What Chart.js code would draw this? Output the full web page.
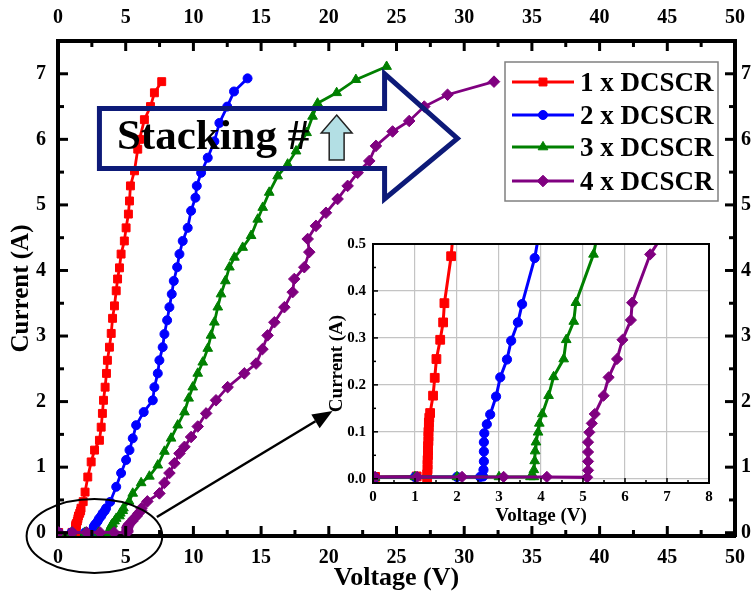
<!DOCTYPE html>
<html>
<head>
<meta charset="utf-8">
<title>DCSCR stacking I-V</title>
<script src="https://cdn.jsdelivr.net/npm/chart.js@4.4.1/dist/chart.umd.min.js"></script>
<style>
  html, body { margin: 0; padding: 0; background: #ffffff; overflow: hidden; }
  #wrap { position: relative; width: 756px; height: 597px; }
  #mainChart { position: absolute; left: 0; top: 0; width: 756px; height: 597px; }
  #insetChart { position: absolute; left: 326px; top: 228px; width: 400px; height: 310px; }
</style>
</head>
<body>
<div id="wrap">
  <canvas id="mainChart" width="756" height="597"></canvas>
  <canvas id="insetChart" width="400" height="310"></canvas>
</div>
<script>
// ---------------- data ----------------
const seriesNames = ['1 x DCSCR', '2 x DCSCR', '3 x DCSCR', '4 x DCSCR'];
const seriesColors = ['#ff0000', '#0000ff', '#008000', '#800080'];
const markerStyles = ['rect', 'circle', 'triangle', 'rectRot'];

// 1 x DCSCR : voltage (V) / current (A)
const volt1 = [0.05, 1.04, 1.29, 1.29, 1.30, 1.30, 1.30, 1.31, 1.31, 1.31, 1.32, 1.32, 1.32, 1.33, 1.33, 1.34,
  1.36, 1.43, 1.47, 1.51, 1.60, 1.67, 1.70, 1.86, 2.00, 2.20, 2.45, 2.70, 3.06, 3.19, 3.28, 3.36, 3.48, 3.58,
  3.65, 3.80, 3.93, 4.03, 4.17, 4.30, 4.40, 4.54, 4.66, 4.90, 5.03, 5.20, 5.28, 5.35, 5.65, 5.89, 6.02, 6.38,
  6.83, 7.12, 7.66];
const curr1 = [0.004, 0.005, 0.000, 0.010, 0.020, 0.030, 0.040, 0.050, 0.060, 0.070, 0.080, 0.090, 0.100, 0.110,
  0.120, 0.130, 0.140, 0.177, 0.215, 0.255, 0.296, 0.333, 0.374, 0.474, 0.62, 0.85, 1.08, 1.26, 1.41, 1.61, 1.82,
  2.02, 2.22, 2.43, 2.63, 2.83, 3.04, 3.27, 3.46, 3.69, 3.87, 4.04, 4.25, 4.45, 4.65, 4.86, 5.06, 5.29, 5.52, 5.85,
  6.00, 6.30, 6.50, 6.71, 6.88];

// 2 x DCSCR
const volt2 = [0.05, 1.00, 2.00, 2.55, 2.62, 2.63, 2.64, 2.64, 2.64, 2.65, 2.71, 2.79, 2.93, 3.03, 3.19, 3.29,
  3.45, 3.55, 3.85, 4.30, 4.66, 5.03, 5.28, 5.52, 5.77, 6.33, 7.00, 7.12, 7.37, 7.49, 7.73, 7.86, 8.06, 8.23, 8.40,
  8.55, 8.80, 8.97, 9.21, 9.58, 9.83, 10.15, 10.25, 10.57, 11.06, 11.55, 11.92, 12.50, 13.00, 14.00];
const curr2 = [0.003, 0.004, 0.004, 0.004, 0.005, 0.019, 0.037, 0.058, 0.078, 0.097, 0.116, 0.137, 0.175, 0.216,
  0.254, 0.294, 0.333, 0.372, 0.470, 0.70, 0.91, 1.11, 1.26, 1.44, 1.64, 1.84, 2.02, 2.22, 2.43, 2.63, 2.83, 3.03,
  3.24, 3.44, 3.64, 3.84, 4.05, 4.25, 4.45, 4.65, 4.91, 5.11, 5.29, 5.49, 5.72, 5.97, 6.25, 6.50, 6.73, 6.93];

// 3 x DCSCR
const volt3 = [0.05, 1.00, 2.00, 3.00, 3.75, 3.83, 3.83, 3.85, 3.86, 3.88, 3.93, 3.96, 4.03, 4.18, 4.30, 4.54,
  4.60, 4.78, 4.83, 5.25, 5.52, 6.14, 6.75, 7.37, 7.86, 8.35, 8.84, 9.34, 9.65, 9.95, 10.32, 10.69, 11.06, 11.30,
  11.55, 11.80, 12.04, 12.36, 12.66, 13.03, 13.64, 14.26, 14.75, 15.12, 15.60, 16.22, 16.96, 17.58, 18.36, 18.80,
  19.17, 20.58, 22.00, 24.27];
const curr3 = [0.003, 0.004, 0.004, 0.004, 0.004, 0.004, 0.019, 0.038, 0.059, 0.078, 0.099, 0.118, 0.138, 0.177,
  0.217, 0.255, 0.296, 0.335, 0.375, 0.478, 0.60, 0.76, 0.86, 1.03, 1.24, 1.44, 1.64, 1.84, 2.05, 2.22, 2.43, 2.60,
  2.81, 3.01, 3.21, 3.44, 3.64, 3.84, 4.05, 4.20, 4.35, 4.53, 4.78, 4.96, 5.19, 5.44, 5.62, 5.82, 6.10, 6.35, 6.55,
  6.71, 6.91, 7.11];

// 4 x DCSCR
const volt4 = [0.05, 1.05, 2.12, 3.11, 4.14, 5.10, 5.12, 5.12, 5.12, 5.12, 5.15, 5.21, 5.28, 5.49, 5.61, 5.81,
  5.94, 6.14, 6.17, 6.60, 7.49, 7.86, 8.23, 8.60, 8.97, 9.34, 9.83, 10.32, 10.94, 11.67, 12.53, 13.76, 14.63, 15.10,
  15.48, 15.98, 16.72, 17.33, 17.45, 18.19, 18.56, 18.44, 19.05, 19.79, 20.65, 21.39, 22.13, 22.99, 23.48, 24.71,
  25.94, 27.05, 28.77, 32.20];
const curr4 = [0.004, 0.004, 0.004, 0.004, 0.004, 0.003, 0.018, 0.037, 0.057, 0.078, 0.099, 0.118, 0.138, 0.177,
  0.216, 0.255, 0.296, 0.338, 0.375, 0.478, 0.60, 0.76, 0.91, 1.06, 1.21, 1.31, 1.46, 1.62, 1.82, 2.02, 2.22, 2.43,
  2.58, 2.80, 3.01, 3.21, 3.44, 3.67, 3.87, 4.05, 4.28, 4.48, 4.68, 4.88, 5.09, 5.29, 5.49, 5.67, 5.90, 6.12, 6.28,
  6.50, 6.68, 6.88];

// axis ranges / tick steps
const mainVoltRange = [0, 50], mainVoltStep = 5;
const mainCurrRange = [-0.05, 7.5], mainCurrStep = 1;
const insetVoltRange = [0, 8], insetVoltStep = 1;
const insetCurrRange = [-0.009, 0.5], insetCurrStep = 0.1;

// ---------------- styling / layout ----------------
const SERIF = "'Liberation Serif', 'Times New Roman', Times, serif";
Chart.defaults.font.family = SERIF;
Chart.defaults.font.weight = 'bold';
Chart.defaults.color = '#000000';

const voltages = [volt1, volt2, volt3, volt4];
const currents = [curr1, curr2, curr3, curr4];
function toPoints(v, c) { return v.map((x, k) => ({ x: x, y: c[k] })); }

function buildDatasets(radii, lineWidth) {
  return seriesNames.map((name, k) => ({
    label: name,
    data: toPoints(voltages[k], currents[k]),
    borderColor: seriesColors[k],
    backgroundColor: seriesColors[k],
    pointBackgroundColor: seriesColors[k],
    pointBorderColor: seriesColors[k],
    pointStyle: markerStyles[k],
    pointRadius: radii[k],
    pointBorderWidth: 1,
    borderWidth: lineWidth,
    tension: 0,
    order: seriesNames.length - 1 - k
  }));
}

// inward major/minor tick marks
const inwardTicks = {
  id: 'inwardTicks',
  afterDraw(chart, args, opts) {
    const ctx = chart.ctx, a = chart.chartArea;
    ctx.save();
    ctx.strokeStyle = '#000';
    ctx.lineWidth = opts.width;
    Object.values(chart.scales).forEach(s => {
      const step = s.options.ticks.stepSize, half = step / 2;
      const k0 = Math.ceil(s.min / half - 1e-6), k1 = Math.floor(s.max / half + 1e-6);
      for (let k = k0; k <= k1; k++) {
        const v = k * half;
        if (Math.abs(v - s.min) < 1e-9 || Math.abs(v - s.max) < 1e-9) continue;
        const len = (Math.abs(k) % 2 === 0) ? opts.major : opts.minor;
        const p = s.getPixelForValue(v);
        ctx.beginPath();
        if (s.position === 'bottom') { ctx.moveTo(p, a.bottom); ctx.lineTo(p, a.bottom - len); }
        else if (s.position === 'top') { ctx.moveTo(p, a.top); ctx.lineTo(p, a.top + len); }
        else if (s.position === 'left') { ctx.moveTo(a.left, p); ctx.lineTo(a.left + len, p); }
        else if (s.position === 'right') { ctx.moveTo(a.right, p); ctx.lineTo(a.right - len, p); }
        ctx.stroke();
      }
    });
    ctx.restore();
  }
};

// annotations (in data units of the main chart)
const stackArrow = { left: 3.06, base: 24.12, tip: 29.5, bodyTop: 6.47, bodyBottom: 5.555, headTop: 7.0, headBottom: 5.09, tipLevel: 6.013 };
const stackLabel = { text: 'Stacking #', x: 4.35, y: 5.85, size: 43 };
const upArrow = { x: 20.58, tip: 6.37, neck: 6.097, foot: 5.685, headHalf: 1.14, shaftHalf: 0.55 };
const zoomEllipse = { x: 2.69, y: -0.05, rx: 5.01, ry: 0.564 };
const pointer = { x0: 7.30, y0: 0.24, x1: 20.28, y1: 1.857 };

const decorations = {
  id: 'decorations',
  afterDraw(chart) {
    const ctx = chart.ctx, xs = chart.scales.x, ys = chart.scales.y;
    const X = v => xs.getPixelForValue(v), Y = v => ys.getPixelForValue(v);
    ctx.save();
    // big block arrow
    const A = stackArrow;
    ctx.strokeStyle = '#0d1a78';
    ctx.lineWidth = 5;
    ctx.lineJoin = 'miter';
    ctx.beginPath();
    ctx.moveTo(X(A.left), Y(A.bodyTop));
    ctx.lineTo(X(A.base), Y(A.bodyTop));
    ctx.lineTo(X(A.base), Y(A.headTop));
    ctx.lineTo(X(A.tip), Y(A.tipLevel));
    ctx.lineTo(X(A.base), Y(A.headBottom));
    ctx.lineTo(X(A.base), Y(A.bodyBottom));
    ctx.lineTo(X(A.left), Y(A.bodyBottom));
    ctx.closePath();
    ctx.stroke();
    // label
    ctx.fillStyle = '#000';
    ctx.font = 'bold ' + stackLabel.size + 'px ' + SERIF;
    ctx.textAlign = 'left';
    ctx.textBaseline = 'alphabetic';
    ctx.fillText(stackLabel.text, X(stackLabel.x), Y(stackLabel.y));
    // small up arrow
    const U = upArrow;
    ctx.fillStyle = '#b3dfe4';
    ctx.strokeStyle = '#222';
    ctx.lineWidth = 1.5;
    ctx.beginPath();
    ctx.moveTo(X(U.x), Y(U.tip));
    ctx.lineTo(X(U.x + U.headHalf), Y(U.neck));
    ctx.lineTo(X(U.x + U.shaftHalf), Y(U.neck));
    ctx.lineTo(X(U.x + U.shaftHalf), Y(U.foot));
    ctx.lineTo(X(U.x - U.shaftHalf), Y(U.foot));
    ctx.lineTo(X(U.x - U.shaftHalf), Y(U.neck));
    ctx.lineTo(X(U.x - U.headHalf), Y(U.neck));
    ctx.closePath();
    ctx.fill();
    ctx.stroke();
    // ellipse around the low-current region
    const E = zoomEllipse;
    ctx.strokeStyle = '#000';
    ctx.lineWidth = 2;
    ctx.beginPath();
    ctx.ellipse(X(E.x), Y(E.y), Math.abs(X(E.x + E.rx) - X(E.x)), Math.abs(Y(E.y + E.ry) - Y(E.y)), 0, 0, Math.PI * 2);
    ctx.stroke();
    // pointer arrow to the inset
    const P = pointer;
    const px0 = X(P.x0), py0 = Y(P.y0), px1 = X(P.x1), py1 = Y(P.y1);
    const ang = Math.atan2(py1 - py0, px1 - px0), hl = 20, hw = 8;
    const bx = px1 - hl * Math.cos(ang), by = py1 - hl * Math.sin(ang);
    ctx.lineWidth = 2.5;
    ctx.beginPath(); ctx.moveTo(px0, py0); ctx.lineTo(bx, by); ctx.stroke();
    ctx.fillStyle = '#000';
    ctx.beginPath();
    ctx.moveTo(px1, py1);
    ctx.lineTo(bx + hw * Math.sin(ang), by - hw * Math.cos(ang));
    ctx.lineTo(bx - hw * Math.sin(ang), by + hw * Math.cos(ang));
    ctx.closePath();
    ctx.fill();
    ctx.restore();
  }
};

// legend drawn inside the plot
const legendBox = { x: 505, y: 62, w: 213, h: 139, rows: [82, 115, 147, 181], lineX0: 512, lineX1: 574, textX: 580, fontSize: 27 };
const insideLegend = {
  id: 'insideLegend',
  afterDraw(chart) {
    const ctx = chart.ctx, L = legendBox;
    ctx.save();
    ctx.fillStyle = '#fff';
    ctx.fillRect(L.x, L.y, L.w, L.h);
    ctx.strokeStyle = '#808080';
    ctx.lineWidth = 1.5;
    ctx.strokeRect(L.x, L.y, L.w, L.h);
    chart.data.datasets.forEach((ds, k) => {
      const y = L.rows[k];
      ctx.strokeStyle = ds.borderColor;
      ctx.lineWidth = 3;
      ctx.beginPath(); ctx.moveTo(L.lineX0, y); ctx.lineTo(L.lineX1, y); ctx.stroke();
      ctx.fillStyle = ds.backgroundColor;
      ctx.lineWidth = 1;
      Chart.helpers.drawPoint(ctx, { pointStyle: ds.pointStyle, radius: ds.pointRadius, rotation: 0, borderWidth: 1 }, (L.lineX0 + L.lineX1) / 2, y);
      ctx.fillStyle = '#000';
      ctx.font = 'bold ' + L.fontSize + 'px ' + SERIF;
      ctx.textAlign = 'left';
      ctx.textBaseline = 'alphabetic';
      ctx.fillText(ds.label, L.textX, y + 9);
    });
    ctx.restore();
  }
};

function axis(position, range, step, opts) {
  return {
    type: 'linear', position: position, min: range[0], max: range[1],
    ticks: { stepSize: step, padding: opts.pad, font: { size: opts.size }, includeBounds: false, autoSkip: false, maxRotation: 0,
      callback: opts.fmt || (v => String(v)) },
    grid: opts.grid || { drawOnChartArea: false, drawTicks: false },
    border: { display: opts.border !== false, color: '#000', width: opts.borderWidth || 4 },
    title: opts.title ? { display: true, text: opts.title, font: { size: opts.titleSize }, padding: opts.titlePad } : { display: false },
    afterFit: s => { if (s.isHorizontal()) s.height = opts.extent; else s.width = opts.extent; }
  };
}

new Chart(document.getElementById('mainChart'), {
  type: 'line',
  data: { datasets: buildDatasets([5.6, 4.5, 5.6, 5.8], 2.8) },
  options: {
    responsive: false, animation: false, maintainAspectRatio: false,
    layout: { padding: 0 },
    plugins: { legend: { display: false }, tooltip: { enabled: false }, inwardTicks: { major: 10, minor: 6, width: 3 } },
    scales: {
      x: axis('bottom', mainVoltRange, mainVoltStep, { pad: 10, size: 20, extent: 61, title: 'Voltage (V)', titleSize: 26, titlePad: { top: 0, bottom: 3 } }),
      x2: axis('top', mainVoltRange, mainVoltStep, { pad: 11, size: 20, extent: 41 }),
      y: axis('left', mainCurrRange, mainCurrStep, { pad: 12, size: 20, extent: 58, title: 'Current (A)', titleSize: 25, titlePad: { top: 7, bottom: 0 } }),
      y2: axis('right', mainCurrRange, mainCurrStep, { pad: 6, size: 20, extent: 20 })
    }
  },
  plugins: [inwardTicks, decorations, insideLegend]
});

// inset helpers
const insetBackground = {
  id: 'insetBackground',
  beforeDraw(chart) {
    const a = chart.chartArea, ctx = chart.ctx;
    ctx.save(); ctx.fillStyle = '#fff'; ctx.fillRect(a.left, a.top, a.right - a.left, a.bottom - a.top); ctx.restore();
  }
};
const insetFrame = {
  id: 'insetFrame',
  afterDraw(chart) {
    const a = chart.chartArea, ctx = chart.ctx;
    ctx.save(); ctx.strokeStyle = '#000'; ctx.lineWidth = 2;
    ctx.strokeRect(a.left, a.top, a.right - a.left, a.bottom - a.top); ctx.restore();
  }
};
const insetGrid = { color: '#c4c4c4', lineWidth: 1.2, drawTicks: false };

new Chart(document.getElementById('insetChart'), {
  type: 'line',
  data: { datasets: buildDatasets([6.2, 4.6, 5.6, 5.6], 3) },
  options: {
    responsive: false, animation: false, maintainAspectRatio: false,
    layout: { padding: { top: 11, right: 17, left: 0, bottom: 0 } },
    plugins: { legend: { display: false }, tooltip: { enabled: false }, inwardTicks: { major: 5, minor: 3, width: 1.5 } },
    scales: {
      x: axis('bottom', insetVoltRange, insetVoltStep, { pad: 5, size: 15, extent: 55, grid: insetGrid, border: false, title: 'Voltage (V)', titleSize: 19, titlePad: { top: 0, bottom: 11 } }),
      y: axis('left', insetCurrRange, insetCurrStep, { pad: 7, size: 15, extent: 47, grid: insetGrid, border: false, fmt: v => v.toFixed(1), title: 'Current (A)', titleSize: 19, titlePad: { top: 0, bottom: 0 } })
    }
  },
  plugins: [insetBackground, inwardTicks, insetFrame]
});
</script>
</body>
</html>
